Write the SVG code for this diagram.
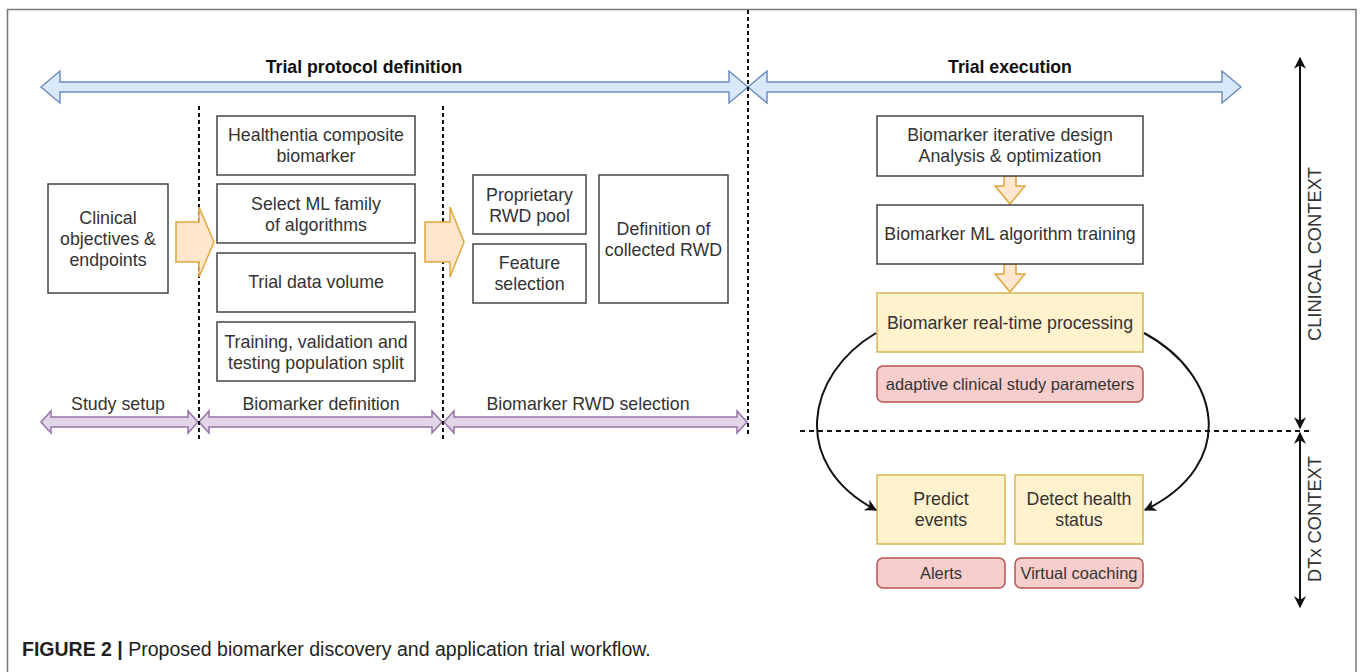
<svg xmlns="http://www.w3.org/2000/svg" width="1360" height="672" viewBox="0 0 1360 672">
<defs>
<style>
text{font-family:"Liberation Sans",Arial,sans-serif;fill:#333;}
.t{font-size:17.8px;text-anchor:middle;}
.h{font-size:17.7px;font-weight:bold;text-anchor:middle;fill:#111;}
.box{fill:#fff;stroke:#444;stroke-width:1.5;}
.yel{fill:#fff2cc;stroke:#d6b656;stroke-width:1.5;}
.red{fill:#f8cecc;stroke:#b85450;stroke-width:1.5;}
.blue{fill:#dae8fc;stroke:#6c8ebf;stroke-width:1.5;}
.purp{fill:#e1d5e7;stroke:#9673a6;stroke-width:1.5;}
.org{fill:#ffe6cc;stroke:#e0a83a;stroke-width:1.5;}
.dash{stroke:#111;stroke-width:2;stroke-dasharray:4 3;fill:none;}
.conn{stroke:#111;stroke-width:2;fill:none;}
</style>
<marker id="ah" viewBox="0 0 10 10" refX="9" refY="5" markerWidth="6" markerHeight="6" markerUnits="strokeWidth" orient="auto-start-reverse">
<path d="M0,0 L10,5 L0,10 L3,5 Z" fill="#111"/>
</marker>
</defs>
<rect width="1360" height="672" fill="#fff"/>
<path d="M7.5,680 V9.5 H1356 V680" fill="none" stroke="#777" stroke-width="1.5"/>

<g id="phase-arrows">
<polygon class="blue" points="41,87 60,71 60,82 729,82 729,71 748,87 729,103 729,92 60,92 60,103"/>
<polygon class="blue" points="748,87 767,71 767,82 1222,82 1222,71 1241,87 1222,103 1222,92 767,92 767,103"/>
<text class="h" x="364" y="73">Trial protocol definition</text>
<text class="h" x="1010" y="73">Trial execution</text>
</g>

<g id="stage-arrows">
<polygon class="purp" points="41,422 51,411 51,417 188,417 188,411 198,422 188,433 188,427 51,427 51,433"/>
<polygon class="purp" points="199,422 209,411 209,417 432,417 432,411 442,422 432,433 432,427 209,427 209,433"/>
<polygon class="purp" points="444,422 454,411 454,417 737,417 737,411 747,422 737,433 737,427 454,427 454,433"/>
<text class="t" x="118" y="410">Study setup</text>
<text class="t" x="321" y="410">Biomarker definition</text>
<text class="t" x="588" y="410">Biomarker RWD selection</text>
</g>

<g id="dividers">
<line class="dash" x1="199" y1="106" x2="199" y2="441"/>
<line class="dash" x1="443" y1="106" x2="443" y2="441"/>
<line class="dash" x1="748" y1="10" x2="748" y2="436"/>
<line class="dash" x1="800" y1="431" x2="1312" y2="431" style="stroke-dasharray:5 4"/>
</g>

<g id="clinical-objectives">
<rect class="box" x="48" y="184" width="120" height="109"/>
<text class="t" x="108" y="224">Clinical</text>
<text class="t" x="108" y="245">objectives &amp;</text>
<text class="t" x="108" y="266">endpoints</text>
</g>

<g id="flow-arrows">
<polygon class="org" points="176,222 199,222 199,207 214,242 199,277 199,262 176,262"/>
<polygon class="org" points="425,222 450,222 450,207 464,242 450,277 450,262 425,262"/>
<polygon class="org" points="1004,176 1016,176 1016,186 1025,186 1010,204 995,186 1004,186"/>
<polygon class="org" points="1004,264 1016,264 1016,274 1025,274 1010,292 995,274 1004,274"/>
</g>

<g id="healthentia">
<rect class="box" x="217" y="116" width="198" height="59"/>
<text class="t" x="316" y="141">Healthentia composite</text>
<text class="t" x="316" y="162">biomarker</text>
</g>
<g id="select-ml">
<rect class="box" x="217" y="184" width="198" height="59"/>
<text class="t" x="316" y="210">Select ML family</text>
<text class="t" x="316" y="231">of algorithms</text>
</g>
<g id="trial-data">
<rect class="box" x="217" y="253" width="198" height="59"/>
<text class="t" x="316" y="288">Trial data volume</text>
</g>
<g id="population-split">
<rect class="box" x="217" y="322" width="198" height="59"/>
<text class="t" x="316" y="348">Training, validation and</text>
<text class="t" x="316" y="369">testing population split</text>
</g>

<g id="rwd-pool">
<rect class="box" x="473" y="175" width="113" height="59"/>
<text class="t" x="529.5" y="201">Proprietary</text>
<text class="t" x="529.5" y="222">RWD pool</text>
</g>
<g id="feature-selection">
<rect class="box" x="473" y="244" width="113" height="59"/>
<text class="t" x="529.5" y="269">Feature</text>
<text class="t" x="529.5" y="290">selection</text>
</g>
<g id="collected-rwd">
<rect class="box" x="599" y="175" width="129" height="128"/>
<text class="t" x="663.5" y="235">Definition of</text>
<text class="t" x="663.5" y="256">collected RWD</text>
</g>

<g id="iterative-design">
<rect class="box" x="877" y="116" width="266" height="60"/>
<text class="t" x="1010" y="141">Biomarker iterative design</text>
<text class="t" x="1010" y="162">Analysis &amp; optimization</text>
</g>
<g id="ml-training">
<rect class="box" x="877" y="205" width="266" height="59"/>
<text class="t" x="1010" y="240">Biomarker ML algorithm training</text>
</g>
<g id="realtime-processing">
<rect class="yel" x="877" y="293" width="266" height="59"/>
<text class="t" x="1010" y="329">Biomarker real-time processing</text>
</g>
<g id="adaptive-parameters">
<rect class="red" x="877" y="366" width="266" height="36" rx="6"/>
<text class="t" x="1010" y="390" style="font-size:16.5px">adaptive clinical study parameters</text>
</g>
<g id="predict-events">
<rect class="yel" x="877" y="475" width="128" height="69"/>
<text class="t" x="941" y="505">Predict</text>
<text class="t" x="941" y="526">events</text>
</g>
<g id="detect-health">
<rect class="yel" x="1015" y="475" width="128" height="69"/>
<text class="t" x="1079" y="505">Detect health</text>
<text class="t" x="1079" y="526">status</text>
</g>
<g id="alerts">
<rect class="red" x="877" y="558" width="128" height="30" rx="6"/>
<text class="t" x="941" y="579" style="font-size:16.5px">Alerts</text>
</g>
<g id="virtual-coaching">
<rect class="red" x="1015" y="558" width="128" height="30" rx="6"/>
<text class="t" x="1079" y="579" style="font-size:16.5px">Virtual coaching</text>
</g>

<g id="connectors">
<path class="conn" d="M876,333 C805,375 790,465 876,510" marker-end="url(#ah)"/>
<path class="conn" d="M1144,333 C1222,375 1238,465 1145,510" marker-end="url(#ah)"/>
<line class="conn" x1="1300" y1="58" x2="1300" y2="428" marker-start="url(#ah)" marker-end="url(#ah)"/>
<line class="conn" x1="1300" y1="433" x2="1300" y2="607" marker-start="url(#ah)" marker-end="url(#ah)"/>
</g>

<g id="context-labels">
<text x="1321" y="254" transform="rotate(-90 1321 254)" style="font-size:18.3px;text-anchor:middle">CLINICAL CONTEXT</text>
<text x="1321" y="519" transform="rotate(-90 1321 519)" style="font-size:18.3px;text-anchor:middle">DTx CONTEXT</text>
</g>

<g id="caption">
<text x="22" y="656" style="font-size:19.5px;fill:#231f20"><tspan font-weight="bold">FIGURE 2 |</tspan> Proposed biomarker discovery and application trial workflow.</text>
</g>
</svg>
